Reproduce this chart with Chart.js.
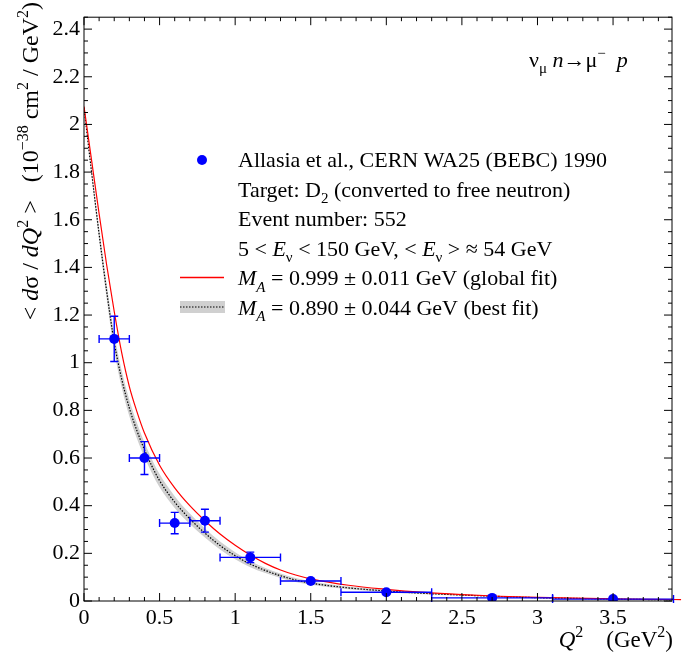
<!DOCTYPE html>
<html>
<head>
<meta charset="utf-8">
<script src="https://cdn.jsdelivr.net/npm/chart.js@4.4.0/dist/chart.umd.min.js"></script>
<style>
  html, body { margin: 0; padding: 0; background: #fff; }
  #wrap { width: 696px; height: 655px; }
</style>
</head>
<body>
<div id="wrap"><canvas id="myChart" width="696" height="655"></canvas></div>
<script>
// measured points (Allasia et al., WA25 BEBC)
var q2 = [0.2, 0.4, 0.6, 0.8, 1.1, 1.5, 2.0, 2.7, 3.5];
var xsec = [1.10, 0.60, 0.327, 0.337, 0.183, 0.084, 0.037, 0.013, 0.008];
var xsecErr = [0.095, 0.069, 0.045, 0.048, 0.022, 0.008, 0.005, 0.003, 0.002];
var q2Lo = [0.1, 0.3, 0.5, 0.7, 0.9, 1.3, 1.7, 2.3, 3.1];
var q2Hi = [0.3, 0.5, 0.7, 0.9, 1.3, 1.7, 2.3, 3.1, 3.9];

// global fit curve, M_A = 0.999
var globalQ2 = [0, 0.05, 0.1, 0.15, 0.2, 0.25, 0.3, 0.35, 0.4, 0.5, 0.6, 0.7, 0.8, 0.9, 1.0, 1.1, 1.2, 1.3, 1.4, 1.5, 1.75, 2.0, 2.25, 2.5, 2.75, 3.0, 3.25, 3.5, 3.75, 3.95];
var globalY = [2.075, 1.85, 1.625, 1.41, 1.215, 1.04, 0.90, 0.795, 0.705, 0.57, 0.475, 0.40, 0.337, 0.281, 0.234, 0.193, 0.158, 0.13, 0.109, 0.093, 0.066, 0.049, 0.036, 0.027, 0.020, 0.015, 0.012, 0.009, 0.007, 0.006];

// best fit curve, M_A = 0.890, with its error band
var bestQ2 = [0, 0.05, 0.1, 0.15, 0.2, 0.25, 0.3, 0.35, 0.4, 0.45, 0.5, 0.6, 0.7, 0.8, 0.9, 1.0, 1.1, 1.2, 1.3, 1.4, 1.5, 1.75, 2.0, 2.25, 2.5, 2.75, 3.0, 3.25, 3.5, 3.75, 3.89];
var bestY = [2.07, 1.80, 1.54, 1.30, 1.085, 0.93, 0.81, 0.715, 0.635, 0.565, 0.505, 0.415, 0.345, 0.285, 0.233, 0.19, 0.155, 0.128, 0.106, 0.088, 0.075, 0.055, 0.042, 0.032, 0.025, 0.019, 0.014, 0.011, 0.008, 0.006, 0.005];
var bestHi = [2.07, 1.815, 1.565, 1.33, 1.12, 0.965, 0.845, 0.748, 0.666, 0.594, 0.533, 0.44, 0.367, 0.304, 0.25, 0.205, 0.168, 0.139, 0.115, 0.096, 0.082, 0.061, 0.047, 0.036, 0.028, 0.021, 0.016, 0.013, 0.009, 0.007, 0.006];
var bestLo = [2.07, 1.785, 1.515, 1.27, 1.05, 0.895, 0.775, 0.682, 0.604, 0.536, 0.477, 0.39, 0.323, 0.266, 0.216, 0.175, 0.142, 0.117, 0.097, 0.08, 0.068, 0.049, 0.037, 0.028, 0.022, 0.017, 0.012, 0.009, 0.007, 0.005, 0.004];

var xTicks = [0, 0.5, 1, 1.5, 2, 2.5, 3, 3.5];
var yTicks = [0, 0.2, 0.4, 0.6, 0.8, 1, 1.2, 1.4, 1.6, 1.8, 2, 2.2, 2.4];

var SERIF = '"Liberation Serif", "Times New Roman", serif';
var BLUE = '#0000ff';

function pts(xs, ys) {
    return xs.map(function(x, i){ return {x: x, y: ys[i]}; });
}

function partFont(p, size) {
    var s = (p.sup || p.sub) ? Math.round(size * 0.68) : size;
    return (p.i ? 'italic ' : '') + s + 'px ' + SERIF;
}

function drawRich(c, parts, x, y, size, align) {
    var w = 0;
    parts.forEach(function(p){ c.font = partFont(p, size); w += c.measureText(p.t).width; });
    var cx = align === 'right' ? x - w : (align === 'center' ? x - w / 2 : x);
    c.textAlign = 'left';
    c.textBaseline = 'alphabetic';
    parts.forEach(function(p){
        c.font = partFont(p, size);
        var dy = p.sup ? -size * 0.42 : (p.sub ? size * 0.28 : 0);
        c.fillText(p.t, cx, y + dy);
        cx += c.measureText(p.t).width;
    });
}

var decorPlugin = {
    id: 'decor',
    afterDatasetsDraw: function(chart){
        var c = chart.ctx, xs = chart.scales.x, ys = chart.scales.y;
        c.save();
        c.strokeStyle = BLUE;
        c.lineWidth = 1.4;
        for (var i = 0; i < q2.length; i++) {
            var px = xs.getPixelForValue(q2[i]);
            var py = ys.getPixelForValue(xsec[i]);
            var xl = xs.getPixelForValue(q2Lo[i]), xr = xs.getPixelForValue(q2Hi[i]);
            var yt = ys.getPixelForValue(xsec[i] + xsecErr[i]), yb = ys.getPixelForValue(xsec[i] - xsecErr[i]);
            c.beginPath();
            c.moveTo(xl, py); c.lineTo(xr, py);
            c.moveTo(xl, py - 4); c.lineTo(xl, py + 4);
            c.moveTo(xr, py - 4); c.lineTo(xr, py + 4);
            c.moveTo(px, yt); c.lineTo(px, yb);
            c.moveTo(px - 4, yt); c.lineTo(px + 4, yt);
            c.moveTo(px - 4, yb); c.lineTo(px + 4, yb);
            c.stroke();
        }
        c.restore();
    },
    afterDraw: function(chart){
        var c = chart.ctx, a = chart.chartArea, xs = chart.scales.x, ys = chart.scales.y;
        c.save();
        // frame and inner ticks
        c.strokeStyle = '#000';
        c.lineWidth = 1;
        c.strokeRect(a.left, a.top, a.right - a.left, a.bottom - a.top);
        c.beginPath();
        for (var i = 0; i <= 49; i++) {
            var yy = ys.getPixelForValue(i * 0.05);
            var len = (i % 4 === 0) ? 8 : 4;
            c.moveTo(a.left, yy); c.lineTo(a.left + len, yy);
            c.moveTo(a.right, yy); c.lineTo(a.right - len, yy);
        }
        for (var j = 0; j <= 38; j++) {
            var xx = xs.getPixelForValue(j * 0.1);
            var l2 = (j % 5 === 0) ? 8 : 4;
            c.moveTo(xx, a.bottom); c.lineTo(xx, a.bottom - l2);
            c.moveTo(xx, a.top); c.lineTo(xx, a.top + l2);
        }
        c.stroke();

        c.fillStyle = '#000';
        // x axis title
        drawRich(c, [{t:'Q', i:1}, {t:'2', sup:1}, {t:'    (GeV'}, {t:'2', sup:1}, {t:')'}], 673, 647, 23, 'right');
        // y axis title (rotated)
        c.save();
        c.translate(38, 2);
        c.rotate(-Math.PI / 2);
        drawRich(c, [{t:'< '}, {t:'d', i:1}, {t:'\u03c3 / '}, {t:'d', i:1}, {t:'Q', i:1}, {t:'2', sup:1},
                     {t:' >   (10'}, {t:'\u221238', sup:1}, {t:' cm'}, {t:'2', sup:1}, {t:' / GeV'}, {t:'2', sup:1}, {t:')'}],
                 0, 0, 24, 'right');
        c.restore();
        // reaction label
        drawRich(c, [{t:'\u03bd'}, {t:'\u03bc', sub:1}, {t:' '}, {t:'n', i:1}, {t:'\u2192\u03bc'}, {t:'\u2212', sup:1}, {t:'  '}, {t:'p', i:1}], 529, 67, 22, 'left');

        // legend
        var tx = 238, b0 = 167, dl = 29.6;
        c.fillStyle = BLUE;
        c.beginPath(); c.arc(202, 160, 5, 0, Math.PI * 2); c.fill();
        c.strokeStyle = '#ff0000'; c.lineWidth = 1.5;
        c.beginPath(); c.moveTo(180, 277.5); c.lineTo(224, 277.5); c.stroke();
        c.fillStyle = '#d0d0d0';
        c.fillRect(180, 301, 45, 12);
        c.strokeStyle = '#000'; c.lineWidth = 1.2; c.setLineDash([1.5, 1.5]);
        c.beginPath(); c.moveTo(180, 307); c.lineTo(225, 307); c.stroke();
        c.setLineDash([]);
        c.fillStyle = '#000';
        drawRich(c, [{t:'Allasia et al., CERN WA25 (BEBC) 1990'}], tx, b0, 22, 'left');
        drawRich(c, [{t:'Target: D'}, {t:'2', sub:1}, {t:' (converted to free neutron)'}], tx, b0 + dl, 22, 'left');
        drawRich(c, [{t:'Event number: 552'}], tx, b0 + 2 * dl, 22, 'left');
        drawRich(c, [{t:'5 < '}, {t:'E', i:1}, {t:'\u03bd', sub:1}, {t:' < 150 GeV, < '}, {t:'E', i:1}, {t:'\u03bd', sub:1}, {t:' > \u2248 54 GeV'}], tx, b0 + 3 * dl, 22, 'left');
        drawRich(c, [{t:'M', i:1}, {t:'A', i:1, sub:1}, {t:' = 0.999 \u00b1 0.011 GeV (global fit)'}], tx, b0 + 4 * dl, 22, 'left');
        drawRich(c, [{t:'M', i:1}, {t:'A', i:1, sub:1}, {t:' = 0.890 \u00b1 0.044 GeV (best fit)'}], tx, b0 + 5 * dl, 22, 'left');
        c.restore();
    }
};

var tickFont = {family: SERIF, size: 22};

var myChart = new Chart(document.getElementById('myChart').getContext('2d'), {
    type: 'scatter',
    data: {
        datasets: [{
            label: 'data',
            data: pts(q2, xsec),
            pointRadius: 5,
            pointBackgroundColor: BLUE,
            pointBorderWidth: 0,
            showLine: false
        }, {
            label: 'global',
            data: pts(globalQ2, globalY),
            showLine: true,
            borderColor: '#ff0000',
            borderWidth: 1.2,
            pointRadius: 0,
            cubicInterpolationMode: 'monotone',
            clip: {left: 0, top: 0, right: 10, bottom: 0}
        }, {
            label: 'best',
            data: pts(bestQ2, bestY),
            showLine: true,
            borderColor: '#000000',
            borderWidth: 1.2,
            borderDash: [1.5, 1.5],
            pointRadius: 0,
            cubicInterpolationMode: 'monotone'
        }, {
            label: 'bandHi',
            data: pts(bestQ2, bestHi),
            showLine: true,
            borderWidth: 0,
            borderColor: 'rgba(0,0,0,0)',
            backgroundColor: '#d0d0d0',
            pointRadius: 0,
            fill: '+1',
            cubicInterpolationMode: 'monotone'
        }, {
            label: 'bandLo',
            data: pts(bestQ2, bestLo),
            showLine: true,
            borderWidth: 0,
            borderColor: 'rgba(0,0,0,0)',
            pointRadius: 0,
            fill: false,
            cubicInterpolationMode: 'monotone'
        }]
    },
    options: {
        responsive: false,
        animation: false,
        devicePixelRatio: 1,
        events: [],
        layout: { padding: {top: 12, right: 24, left: 0, bottom: 0} },
        plugins: { legend: {display: false}, tooltip: {enabled: false} },
        scales: {
            x: {
                type: 'linear', min: 0, max: 3.89,
                afterBuildTicks: function(s){ s.ticks = xTicks.map(function(v){ return {value: v}; }); },
                afterFit: function(s){ s.height = 54; },
                grid: {display: false, drawTicks: false},
                border: {display: false},
                ticks: {padding: 4, color: '#000', font: tickFont, maxRotation: 0, autoSkip: false,
                        callback: function(v){ return String(v); }}
            },
            y: {
                type: 'linear', min: 0, max: 2.45,
                afterBuildTicks: function(s){ s.ticks = yTicks.map(function(v){ return {value: v}; }); },
                afterFit: function(s){ s.width = 84; },
                grid: {display: false, drawTicks: false},
                border: {display: false},
                ticks: {padding: 4, color: '#000', font: tickFont, autoSkip: false,
                        callback: function(v){ return String(v); }}
            }
        }
    },
    plugins: [decorPlugin]
});
</script>
</body>
</html>
